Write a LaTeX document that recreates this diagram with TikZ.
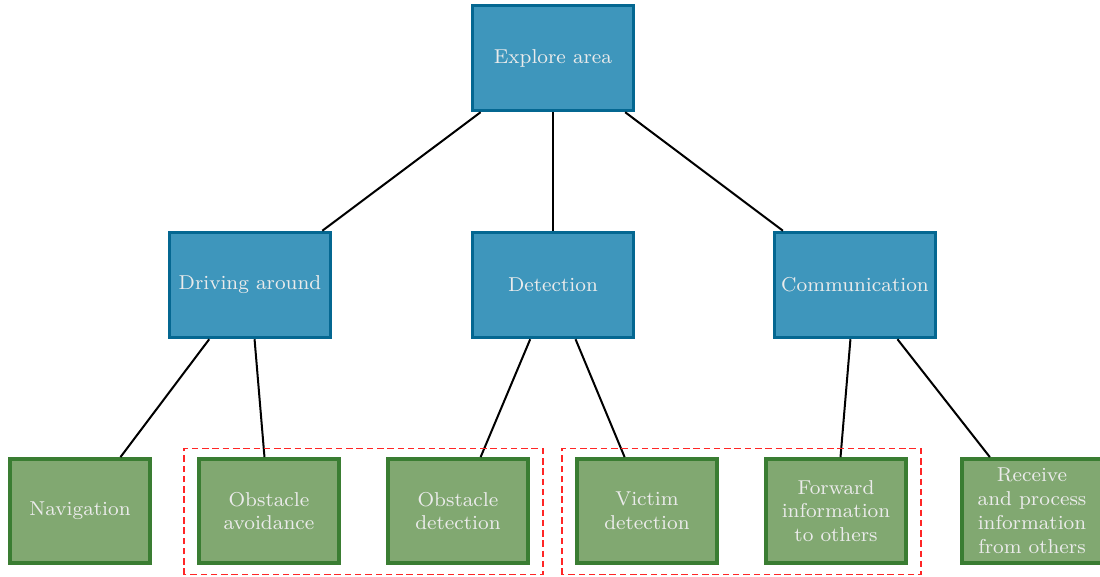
\documentclass[tikz,border=0pt]{standalone}
\usepackage{tikz}
\usetikzlibrary{positioning}

\definecolor{taskfill}{RGB}{62,150,188}
\definecolor{taskline}{RGB}{4,103,145}
\definecolor{subfill}{RGB}{129,168,113}
\definecolor{subline}{RGB}{58,125,50}

\begin{document}
\begin{tikzpicture}[x=1cm,y=1cm,
  taskbox/.style={draw=taskline,fill=taskfill,line width=1.4pt,minimum width=2.25cm,minimum height=1.47cm,
    text=white!92!black,font=\footnotesize,align=center,inner sep=1pt},
  subtask/.style={draw=subline,fill=subfill,line width=1.4pt,minimum width=1.96cm,minimum height=1.46cm,
    text=white!92!black,font=\footnotesize,align=center,inner sep=1pt},
  link/.style={thick,black},
  groupbox/.style={draw=red!85,dash pattern=on 2.6pt off 1.5pt,line width=0.4pt}]
  \useasboundingbox (0,0) rectangle (15.4,8.078);
  % top level
  \node[taskbox] (explore) at (7.742,7.266) {Explore area};
  % second level
  \node[taskbox] (driving) at (3.5,4.088) {Driving around};
  \node[taskbox] (detect) at (7.742,4.088) {Detection};
  \node[taskbox] (comm) at (11.97,4.088) {Communication};
  % third level
  \node[subtask] (nav) at (1.12,0.924) {Navigation};
  \node[subtask] (avoid) at (3.766,0.924) {Obstacle\\avoidance};
  \node[subtask] (obsdet) at (6.412,0.924) {Obstacle\\detection};
  \node[subtask] (victim) at (9.058,0.924) {Victim\\detection};
  \node[subtask] (forward) at (11.704,0.924) {Forward\\information\\to others};
  \node[subtask] (receive) at (14.448,0.924) {Receive\\and process\\information\\from others};
  % connectors
  \draw[link] (explore) -- (driving);
  \draw[link] (explore) -- (detect);
  \draw[link] (explore) -- (comm);
  \draw[link] (driving) -- (nav);
  \draw[link] (driving) -- (avoid);
  \draw[link] (detect) -- (obsdet);
  \draw[link] (detect) -- (victim);
  \draw[link] (comm) -- (forward);
  \draw[link] (comm) -- (receive);
  % groups
  \draw[groupbox] (2.576,0.028) rectangle (7.602,1.792);
  \draw[groupbox] (7.868,0.028) rectangle (12.894,1.792);
\end{tikzpicture}
\end{document}
